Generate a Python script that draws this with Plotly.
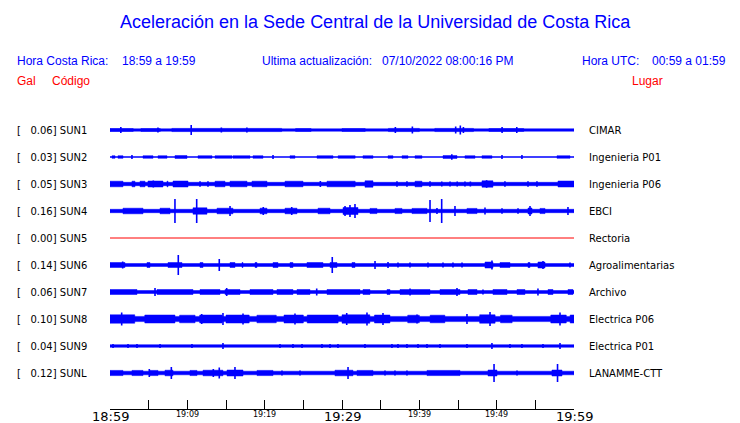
import plotly.graph_objects as go

# ---------------- data ----------------
CODES = ["SUN1", "SUN2", "SUN3", "SUN4", "SUN5", "SUN6", "SUN7", "SUN8", "SUN9", "SUNL"]
PEAK_GAL = [0.06, 0.03, 0.05, 0.16, 0.00, 0.14, 0.06, 0.10, 0.04, 0.12]
PLACES = ["CIMAR", "Ingenieria P01", "Ingenieria P06", "EBCI", "Rectoria",
          "Agroalimentarias", "Archivo", "Electrica P06", "Electrica P01", "LANAMME-CTT"]

# background (noise) half-amplitude of each record, relative display units
BASE_AMP = [1.2, 0.5, 1.7, 1.7, 0.0, 1.5, 1.5, 2.6, 1.3, 1.8]

# minutes after 18:59 ; bursts = (start, end, half-amplitude) ; spikes = (time, half-amplitude)
SUN1_BURSTS = [(0.0, 3.0, 1.5), (4.0, 6.5, 1.5), (8.0, 22.2, 1.6), (24.0, 26.0, 1.5),
               (30.0, 33.0, 1.5), (36.0, 40.0, 1.6), (42.0, 47.0, 1.6), (49.0, 53.5, 1.5)]
SUN1_SPIKES = [(1.4, 3.0), (6.2, 2.5), (10.5, 5.0), (14.4, 2.5), (17.7, 2.5), (36.9, 3.0),
               (39.1, 3.5), (44.7, 3.5), (45.3, 4.5), (45.7, 3.0), (50.7, 3.0), (52.6, 3.0)]

SUN2_BURSTS = [(0.26, 0.65, 1.3), (1.03, 1.68, 1.3), (4.27, 5.56, 1.3), (6.21, 7.37, 1.3),
               (8.40, 9.96, 1.4), (11.38, 13.19, 1.3), (13.58, 15.78, 1.3), (15.90, 18.10, 1.3),
               (18.49, 19.78, 1.3), (23.28, 23.92, 1.3), (26.77, 28.84, 1.3), (29.5, 31.7, 1.3),
               (32.71, 34.01, 1.3), (35.95, 36.59, 1.3), (37.76, 38.53, 1.3), (39.44, 40.34, 1.3),
               (43.06, 44.87, 1.4), (45.90, 47.20, 1.3), (48.10, 49.39, 1.3), (57.80, 59.48, 1.3)]
SUN2_SPIKES = [(2.84, 2.0), (21.08, 2.0), (50.69, 2.0), (53.27, 2.0), (44.2, 2.8)]

SUN3_BURSTS = [(0.0, 1.68, 2.8), (2.84, 3.23, 2.8), (3.88, 4.53, 2.8), (4.91, 6.85, 3.0),
               (7.37, 7.5, 2.8), (8.15, 10.09, 3.0), (13.58, 14.87, 2.8), (15.52, 17.72, 2.8),
               (18.36, 20.30, 2.8), (22.63, 24.96, 2.8), (28.06, 31.7, 2.8), (32.97, 34.01, 3.2),
               (39.44, 40.34, 2.8), (48.10, 49.52, 3.2), (57.93, 60.0, 3.0)]
SUN3_SPIKES = [(5.6, 3.5), (11.64, 2.8), (12.67, 2.8), (27.2, 3.0), (37.11, 2.8), (38.40, 2.8),
               (41.38, 2.8), (42.9, 2.5), (43.97, 2.5), (44.9, 2.5), (45.9, 2.5), (46.6, 2.5),
               (48.7, 3.8), (51.07, 2.8), (54.05, 2.8), (55.21, 2.8)]

SUN4_BURSTS = [(1.68, 4.27, 2.8), (6.47, 7.76, 2.8), (10.73, 12.54, 3.2), (13.84, 15.90, 2.8),
               (19.40, 20.30, 2.8), (22.63, 24.18, 2.8), (26.90, 28.45, 2.8), (30.13, 32.07, 3.5),
               (33.62, 34.52, 2.6), (36.85, 37.76, 2.6), (39.05, 40.99, 2.6), (46.16, 47.46, 2.6),
               (54.05, 54.57, 3.0), (55.60, 56.25, 2.6)]
SUN4_SPIKES = [(8.40, 12.0), (11.21, 12.0), (15.52, 5.0), (19.82, 4.0), (23.50, 4.0), (30.39, 5.0),
               (31.03, 6.0), (31.68, 7.0), (41.38, 11.0), (42.28, 3.0), (42.89, 12.0), (44.61, 5.0),
               (48.49, 3.5), (50.69, 2.8), (52.76, 2.8), (54.31, 5.0), (59.22, 4.0)]

SUN5_BURSTS = []
SUN5_SPIKES = []

SUN6_BURSTS = [(0.0, 1.94, 2.5), (4.78, 5.17, 2.5), (7.50, 9.31, 2.5), (11.64, 12.03, 2.5),
               (15.52, 16.16, 2.5), (17.07, 17.20, 2.5), (18.75, 19.01, 2.5), (21.08, 21.72, 2.5),
               (23.28, 23.66, 2.5), (25.47, 27.54, 2.5), (28.45, 29.35, 2.5), (31.29, 31.68, 2.5),
               (48.49, 49.52, 3.0), (50.43, 51.72, 2.5), (54.05, 54.31, 2.5), (55.34, 56.25, 3.0)]
SUN6_SPIKES = [(1.64, 3.5), (8.83, 10.0), (14.13, 6.0), (28.74, 8.0), (34.27, 4.0), (35.95, 3.0),
               (37.24, 2.5), (38.79, 2.5), (41.12, 2.5), (43.06, 2.5), (44.35, 2.5), (45.52, 2.5),
               (49.39, 4.5), (55.99, 4.0), (59.48, 2.5)]

SUN7_BURSTS = [(0.0, 3.49, 2.5), (6.08, 10.73, 2.5), (11.64, 14.22, 2.5), (14.87, 16.81, 2.5),
               (18.10, 21.08, 2.5), (21.59, 23.66, 2.5), (24.18, 25.86, 2.5), (28.06, 32.33, 2.5),
               (32.71, 33.62, 2.5), (35.82, 36.21, 2.5), (37.50, 41.38, 2.5), (42.67, 45.26, 2.5),
               (46.29, 47.46, 2.5), (49.52, 51.34, 2.5), (52.63, 53.66, 2.5), (56.64, 57.28, 2.5),
               (59.22, 59.87, 2.5)]
SUN7_SPIKES = [(5.82, 4.0), (15.09, 4.0), (26.73, 3.5), (38.8, 3.5), (44.87, 4.0), (48.23, 2.5),
               (55.34, 3.5)]

SUN8_BURSTS = [(0.0, 3.2, 4.2), (4.5, 8.4, 4.0), (9.0, 11.0, 3.8), (11.6, 14.5, 4.0),
               (15.0, 18.0, 4.0), (19.0, 21.5, 3.8), (22.5, 25.0, 4.0), (25.5, 29.5, 4.0),
               (30.0, 33.6, 4.2), (34.2, 36.2, 4.0), (38.5, 40.0, 3.8), (41.4, 43.3, 3.8),
               (47.8, 49.8, 4.2), (50.5, 52.0, 3.8), (57.0, 59.0, 4.0), (59.5, 60.0, 4.0)]
SUN8_SPIKES = [(1.51, 6.5), (11.86, 5.0), (14.61, 6.0), (17.20, 5.5), (23.92, 5.5), (30.61, 6.0),
               (33.23, 6.5), (35.30, 6.0), (39.70, 4.5), (46.16, 5.0), (49.14, 7.0), (58.19, 6.5)]

SUN9_BURSTS = []
SUN9_SPIKES = [(0.39, 2.0), (2.33, 2.0), (3.49, 2.0), (6.47, 2.0), (10.60, 2.0), (14.61, 3.0),
               (21.98, 2.0), (23.66, 2.0), (24.83, 2.0), (27.41, 2.0), (28.45, 2.0), (29.48, 2.0),
               (32.97, 2.0), (36.46, 2.0), (37.24, 2.0), (38.40, 2.0), (39.83, 2.0), (40.99, 2.0),
               (42.67, 2.0), (46.16, 2.0), (49.39, 3.0), (51.72, 2.0), (53.27, 2.0), (55.99, 2.0),
               (58.19, 3.0)]

SUNL_BURSTS = [(0.0, 1.68, 2.6), (2.84, 4.27, 2.6), (5.17, 6.21, 2.6), (7.11, 8.15, 2.8),
               (10.34, 11.25, 2.6), (12.03, 14.61, 2.8), (15.13, 17.20, 3.0), (19.01, 21.08, 2.6),
               (29.09, 31.42, 2.8), (31.94, 34.01, 2.6), (40.99, 45.26, 2.6), (48.88, 50.04, 3.0),
               (57.15, 58.45, 3.0)]
SUNL_SPIKES = [(5.08, 4.0), (7.93, 6.0), (13.36, 4.0), (14.13, 5.5), (16.16, 6.0), (22.24, 2.6),
               (24.57, 2.6), (30.78, 6.0), (35.56, 2.6), (36.85, 2.6), (38.40, 2.6), (49.66, 9.0),
               (52.63, 2.6), (57.87, 9.0)]

BURSTS = [SUN1_BURSTS, SUN2_BURSTS, SUN3_BURSTS, SUN4_BURSTS, SUN5_BURSTS,
          SUN6_BURSTS, SUN7_BURSTS, SUN8_BURSTS, SUN9_BURSTS, SUNL_BURSTS]
SPIKES = [SUN1_SPIKES, SUN2_SPIKES, SUN3_SPIKES, SUN4_SPIKES, SUN5_SPIKES,
          SUN6_SPIKES, SUN7_SPIKES, SUN8_SPIKES, SUN9_SPIKES, SUNL_SPIKES]

DURATION_MIN = 60
TICK_STEP_MIN = 5
TICK_LABEL_MIN = [0, 10, 20, 30, 40, 50, 60]
TICK_LABELS = ["18:59", "19:09", "19:19", "19:29", "19:39", "19:49", "19:59"]
MAJOR_LABELS = ["18:59", "19:29", "19:59"]

TITLE = "Aceleración en la Sede Central de la Universidad de Costa Rica"
HORA_CR = "18:59 a 19:59"
UPDATED = "07/10/2022 08:00:16 PM"
HORA_UTC = "00:59 a 01:59"

# ---------------- layout geometry ----------------
W, H = 740, 423
ML, MR, MT, MB = 110, 166, 103, 14
PW, PH = W - ML - MR, H - MT - MB
N = len(CODES)
Y_TOP, Y_BOT = 1.0, -(N - 1) - 1.3333
UNIT_PX = PH / (Y_TOP - Y_BOT)
AMP_SCALE = 1.0 / UNIT_PX


def px_x(px):
    return (px - ML) / PW


def px_y(py):
    return (H - MB - py) / PH


BLUE = "#0000ff"
RED = "#ff0000"

fig = go.Figure()

for i, code in enumerate(CODES):
    y0 = -i
    if BASE_AMP[i] == 0 and not BURSTS[i] and not SPIKES[i]:
        fig.add_trace(go.Scatter(x=[0, DURATION_MIN], y=[y0, y0], mode="lines",
                                 line=dict(color=RED, width=1), hoverinfo="skip",
                                 showlegend=False))
        continue
    rects = [(0, DURATION_MIN, BASE_AMP[i])] + list(BURSTS[i])
    xs, ys = [], []
    for a, b, h in rects:
        hh = h * AMP_SCALE
        xs += [a, b, b, a, a, None]
        ys += [y0 - hh, y0 - hh, y0 + hh, y0 + hh, y0 - hh, None]
    fig.add_trace(go.Scatter(x=xs, y=ys, mode="lines", fill="toself", fillcolor=BLUE,
                             line=dict(color=BLUE, width=0.5), hoverinfo="skip",
                             showlegend=False))
    sx, sy = [], []
    for t, h in SPIKES[i]:
        hh = h * AMP_SCALE
        sx += [t, t, None]
        sy += [y0 - hh, y0 + hh, None]
    if sx:
        fig.add_trace(go.Scatter(x=sx, y=sy, mode="lines",
                                 line=dict(color=BLUE, width=1.6), hoverinfo="skip",
                                 showlegend=False))

ann = []
LABEL_FONT = dict(family="DejaVu Sans", size=10, color="black")
for i, code in enumerate(CODES):
    ann.append(dict(x=px_x(15), xref="paper", y=-i, yref="y", xanchor="left", yanchor="middle",
                    text="[\u00a0\u00a0\u00a0%.2f] %s" % (PEAK_GAL[i], code), showarrow=False,
                    font=LABEL_FONT))
    ann.append(dict(x=px_x(587), xref="paper", y=-i, yref="y", xanchor="left", yanchor="middle",
                    text=PLACES[i], showarrow=False, font=LABEL_FONT))

for m, lab in zip(TICK_LABEL_MIN, TICK_LABELS):
    big = lab in MAJOR_LABELS
    ann.append(dict(x=m, xref="x", y=px_y(409), yref="paper", xanchor="center", yanchor="top",
                    text=lab, showarrow=False, yshift=2 if big else 1,
                    font=dict(family="DejaVu Sans", size=13 if big else 8, color="black")))

HF = dict(family="Liberation Sans, Arial", size=12, color=BLUE)
RF = dict(family="Liberation Sans, Arial", size=12, color=RED)
ann += [
    dict(x=px_x(375), y=px_y(22), text=TITLE, xanchor="center",
         font=dict(family="Liberation Sans, Arial", size=18, color=BLUE)),
    dict(x=px_x(15), y=px_y(61), text="Hora Costa Rica:", xanchor="left", font=HF),
    dict(x=px_x(120), y=px_y(61), text=HORA_CR, xanchor="left", font=HF),
    dict(x=px_x(260), y=px_y(61), text="Ultima actualización:", xanchor="left", font=HF),
    dict(x=px_x(380), y=px_y(61), text=UPDATED, xanchor="left", font=HF),
    dict(x=px_x(580), y=px_y(61), text="Hora UTC:", xanchor="left", font=HF),
    dict(x=px_x(650), y=px_y(61), text=HORA_UTC, xanchor="left", font=HF),
    dict(x=px_x(15), y=px_y(81), text="Gal", xanchor="left", font=RF),
    dict(x=px_x(50), y=px_y(81), text="Código", xanchor="left", font=RF),
    dict(x=px_x(630), y=px_y(81), text="Lugar", xanchor="left", font=RF),
]
for a in ann[-10:]:
    a.update(xref="paper", yref="paper", yanchor="middle", showarrow=False)

fig.update_layout(
    width=W, height=H, margin=dict(l=ML, r=MR, t=MT, b=MB, pad=0),
    paper_bgcolor="white", plot_bgcolor="white", showlegend=False,
    annotations=ann,
    xaxis=dict(range=[0, DURATION_MIN], tickmode="linear", tick0=0, dtick=TICK_STEP_MIN,
               ticks="inside", ticklen=9, tickwidth=1, tickcolor="black",
               showline=True, linecolor="black", linewidth=1, showgrid=False,
               zeroline=False, showticklabels=False, fixedrange=True),
    yaxis=dict(range=[Y_BOT, Y_TOP], visible=False, showgrid=False, zeroline=False,
               fixedrange=True),
)

fig.write_html("out.html", config={"displayModeBar": False},
               post_script="document.body.style.margin='0px';document.body.style.overflow='hidden';")
